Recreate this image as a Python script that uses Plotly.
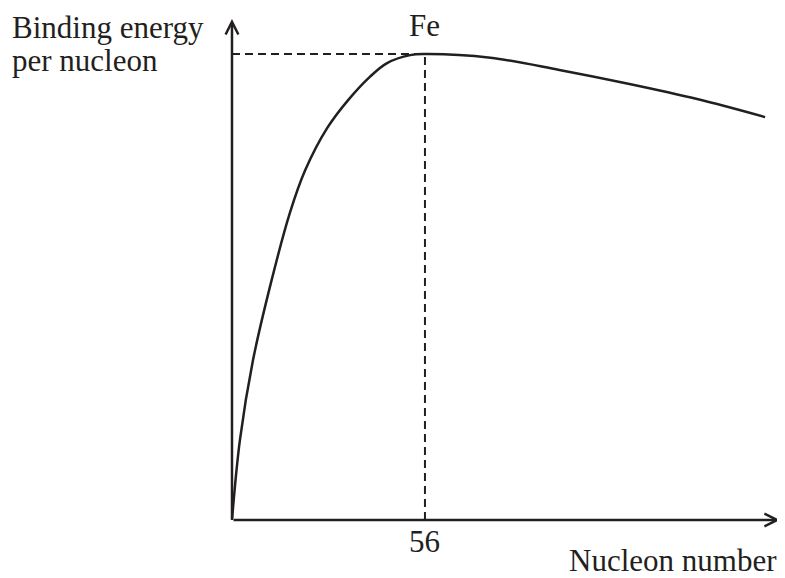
import plotly.graph_objects as go

# Binding-energy-per-nucleon curve (nucleon number, arbitrary energy units)
nucleon_number = [0, 2.3, 6.1, 11.5, 16.8, 21.2, 27.6, 33.7, 40.0, 45.0, 51.7, 56,
                  75, 95, 115, 135, 154.7]
binding_energy = [0, 1.51, 3.02, 4.53, 5.80, 6.60, 7.40, 7.93, 8.37, 8.63, 8.78, 8.80,
                  8.73, 8.50, 8.24, 7.95, 7.61]

peak_label = "Fe"
peak_tick = "56"
x_title = "Nucleon number"
y_title_lines = ["Binding energy", "per nucleon"]

x_axis_end = 159.0
y_axis_end = 9.46

peak_i = binding_energy.index(max(binding_energy))
peak_x = nucleon_number[peak_i]
peak_y = binding_energy[peak_i]

FONT = "Liberation Serif"
FS = 31
INK = "#231f20"

fig = go.Figure()
fig.add_trace(go.Scatter(
    x=nucleon_number, y=binding_energy, mode="lines",
    line=dict(color=INK, width=2.5, shape="spline", smoothing=1.0),
    hoverinfo="skip", showlegend=False,
))

# dashed guide lines to the peak
fig.add_shape(type="line", x0=0, x1=peak_x, y0=peak_y, y1=peak_y,
              line=dict(color=INK, width=2, dash="8px,5px"))
fig.add_shape(type="line", x0=peak_x, x1=peak_x, y0=0, y1=peak_y,
              line=dict(color=INK, width=2, dash="8px,5px"))

# axes with arrows
for (xt, yt) in [(x_axis_end, 0), (0, y_axis_end)]:
    fig.add_annotation(x=xt, y=yt, ax=0, ay=0, xref="x", yref="y", axref="x", ayref="y",
                       text="", showarrow=True, arrowhead=5, arrowwidth=2.5,
                       arrowsize=1, arrowcolor=INK, standoff=0)

font = dict(family=FONT, size=FS, color=INK)
fig.add_annotation(x=peak_x, y=peak_y, text=peak_label, showarrow=False, yshift=9,
                   yanchor="bottom", font=font)
fig.add_annotation(x=peak_x, y=0, text=peak_tick, showarrow=False, yshift=-2,
                   yanchor="top", font=font)
fig.add_annotation(x=x_axis_end, y=0, text=x_title, showarrow=False, yshift=-21,
                   xshift=-1, xanchor="right", yanchor="top", font=font)
for i, line in enumerate(y_title_lines):
    fig.add_annotation(xref="paper", x=0, y=y_axis_end, text=line, showarrow=False,
                       xanchor="left", xshift=2, yanchor="middle", yshift=-8 - 33.7 * i,
                       font=font)

fig.update_xaxes(range=[-65.0, 160.48], visible=False, fixedrange=True)
fig.update_yaxes(range=[-1.095, 9.670], visible=False, fixedrange=True)
fig.update_layout(width=777, height=570, margin=dict(l=0, r=0, t=0, b=0),
                  plot_bgcolor="white", paper_bgcolor="white")

fig.write_html("out.html")
